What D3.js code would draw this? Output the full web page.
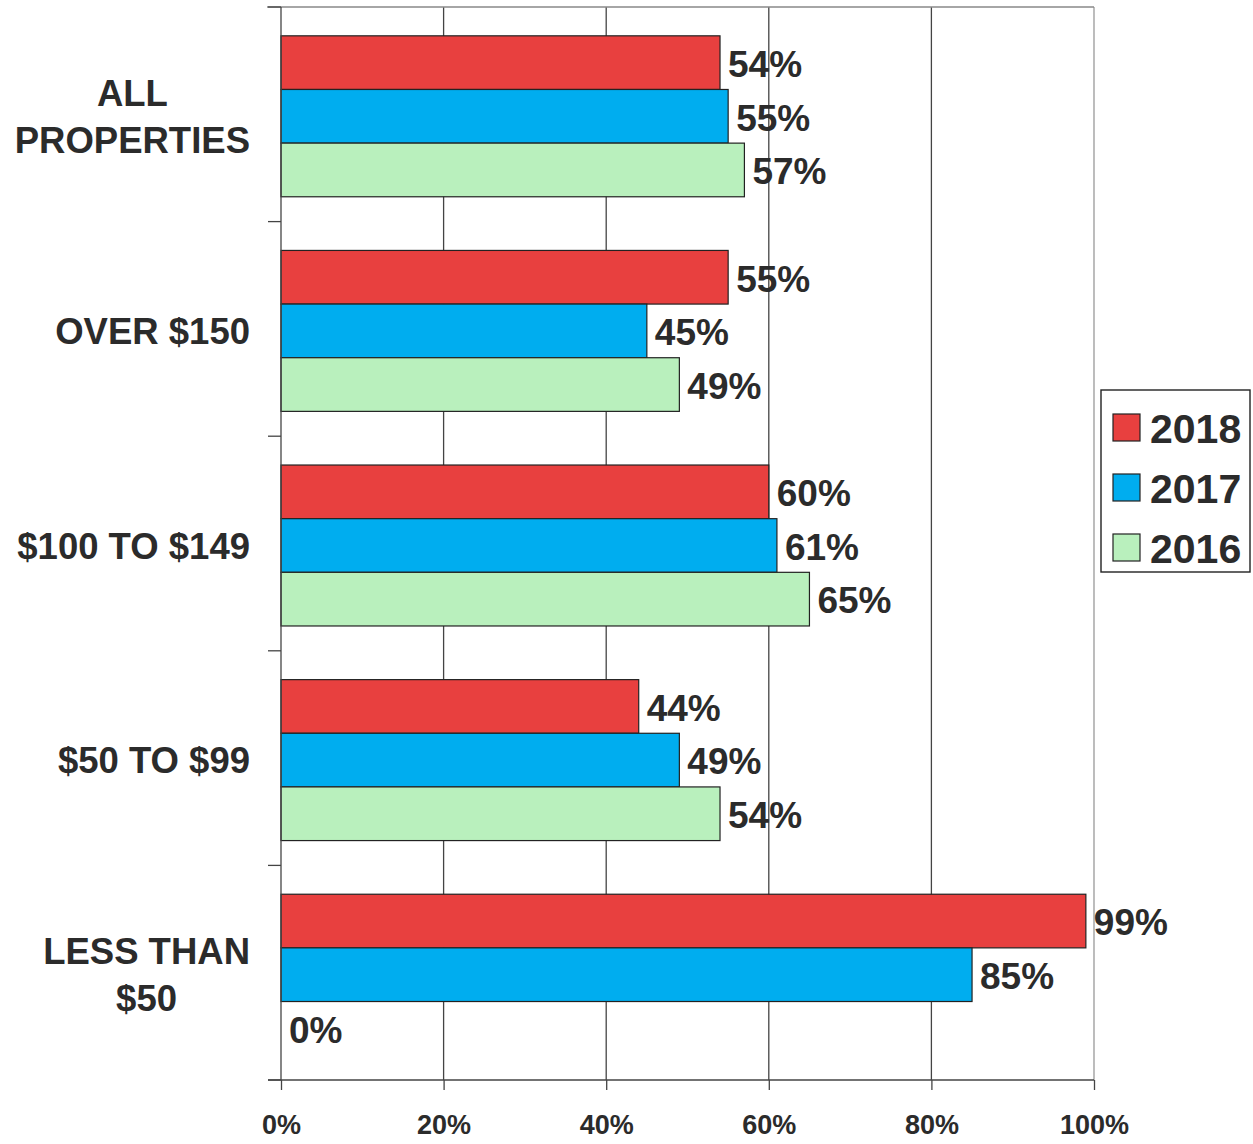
<!DOCTYPE html>
<html><head><meta charset="utf-8">
<script src="https://cdn.jsdelivr.net/npm/d3@7"></script>
<style>body{margin:0;background:#fff}svg{display:block}</style>
</head><body>
<script>
const categories = [["ALL","PROPERTIES"],["OVER $150"],["$100 TO $149"],["$50 TO $99"],["LESS THAN","$50"]];
const seriesNames = ["2018","2017","2016"];
const values2018 = [54,55,60,44,99];
const values2017 = [55,45,61,49,85];
const values2016 = [57,49,65,54,0];
const tickValues = [0,20,40,60,80,100];
const colors = ["#e8403f","#00adef","#b9f0bd"];
const series = [values2018, values2017, values2016];

const W=1253,H=1144;
const svg=d3.select("body").append("svg").attr("width",W).attr("height",H);
const font="'Liberation Sans', Arial, sans-serif";
const textCol="#2b2b2b";
const plotTop=7, plotBottom=1080;
const x=d3.scaleLinear().domain([0,100]).range([281,1094]);
const step=(plotBottom-plotTop)/categories.length;
const y=d3.scaleBand().domain(d3.range(categories.length)).range([plotTop+2,plotBottom+2]).paddingInner(0.25).paddingOuter(0.125);
const ySub=d3.scaleBand().domain(d3.range(3)).range([0,y.bandwidth()]);

// gridlines
svg.append("g").selectAll("line").data(tickValues.slice(1)).join("line")
 .attr("x1",d=>x(d)).attr("x2",d=>x(d)).attr("y1",plotTop).attr("y2",plotBottom)
 .attr("stroke",d=>d===100?"#999":"#444").attr("stroke-width",1.3);
svg.append("line").attr("x1",267).attr("x2",x(100)).attr("y1",plotTop).attr("y2",plotTop).attr("stroke","#888").attr("stroke-width",1.3);

// bars
categories.forEach((c,i)=>{
  series.forEach((vals,s)=>{
    const y0=y(i)+ySub(s);
    if(vals[i]>0){
      svg.append("rect").attr("x",x(0)).attr("y",y0).attr("width",x(vals[i])-x(0)).attr("height",ySub.bandwidth())
       .attr("fill",colors[s]).attr("stroke","#222").attr("stroke-width",1.2);
    }
    svg.append("text").attr("x",x(vals[i])+8).attr("y",y0+ySub.bandwidth()/2+1).attr("dy","0.36em")
      .attr("font-family",font).attr("font-weight","bold").attr("font-size",37).attr("fill",textCol)
      .text(vals[i]+"%");
  });
});

// axes
const xAxis=d3.axisBottom(x).tickValues(tickValues).tickFormat(d=>d+"%").tickSize(10).tickSizeOuter(0);
const gx=svg.append("g").attr("transform",`translate(0,${plotBottom})`).call(xAxis);
gx.select(".domain").attr("stroke","#444").attr("stroke-width",1.3).attr("d",`M268,0H${x(100)}`);
gx.selectAll(".tick line").attr("stroke","#444").attr("stroke-width",1.3);
gx.selectAll(".tick text").attr("y",35).attr("font-family",font).attr("font-weight","bold").attr("font-size",27).attr("fill",textCol);

const yTicks=d3.range(categories.length+1).map(i=>plotTop+i*step);
svg.append("line").attr("x1",x(0)).attr("x2",x(0)).attr("y1",plotTop).attr("y2",plotBottom).attr("stroke","#444").attr("stroke-width",1.3);
svg.append("g").selectAll("line").data(yTicks).join("line")
 .attr("x1",268).attr("x2",x(0)).attr("y1",d=>d).attr("y2",d=>d).attr("stroke","#444").attr("stroke-width",1.3);

// category labels
categories.forEach((lines,i)=>{
  const cy=y(i)+y.bandwidth()/2;
  const g=svg.append("g");
  const ts=lines.map((l,k)=>g.append("text").attr("font-family",font).attr("font-weight","bold").attr("font-size",36.5).attr("fill",textCol)
     .attr("text-anchor","middle").attr("y",cy+(k-(lines.length-1)/2)*47).attr("dy","0.36em").text(l));
  const maxW=d3.max(ts,t=>t.node().getComputedTextLength());
  const cx=250-maxW/2;
  ts.forEach(t=>t.attr("x",cx));
});

// legend
const lg=svg.append("g");
lg.append("rect").attr("x",1101).attr("y",390).attr("width",149).attr("height",182).attr("fill","#fff").attr("stroke","#222").attr("stroke-width",1.4);
seriesNames.forEach((n,s)=>{
  const cy=427+s*60;
  lg.append("rect").attr("x",1113).attr("y",cy-13).attr("width",27).attr("height",27).attr("fill",colors[s]).attr("stroke","#222").attr("stroke-width",1.2);
  lg.append("text").attr("x",1150).attr("y",cy+1).attr("dy","0.36em").attr("font-family",font).attr("font-weight","bold").attr("font-size",41).attr("fill",textCol).text(n);
});
</script>
</body></html>
